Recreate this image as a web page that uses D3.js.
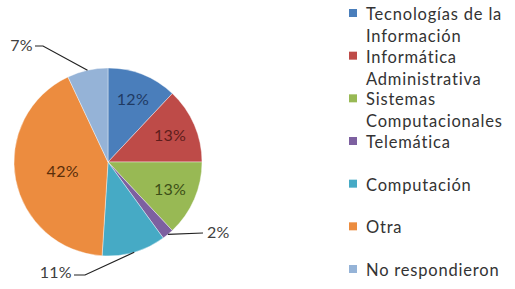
<!DOCTYPE html>
<html>
<head>
<meta charset="utf-8">
<script src="https://cdn.jsdelivr.net/npm/d3@7"></script>
<style>
  html, body { margin: 0; padding: 0; background: #fff; }
  svg { display: block; }
  text { font-family: Lato, "Open Sans", sans-serif; }
</style>
</head>
<body>
<svg id="chart" width="515" height="289"></svg>
<script>
// Carreras — porcentaje de respuestas
const categories = [
  'Tecnologías de la Información',
  'Informática Administrativa',
  'Sistemas Computacionales',
  'Telemática',
  'Computación',
  'Otra',
  'No respondieron'
];
const values = [12, 13, 13, 2, 11, 42, 7];
const legendLines = [
  ['Tecnologías de la', 'Información'],
  ['Informática', 'Administrativa'],
  ['Sistemas', 'Computacionales'],
  ['Telemática'],
  ['Computación'],
  ['Otra'],
  ['No respondieron']
];
const colors = ['#4a7ebb', '#be4b48', '#98b954', '#7d60a0', '#46aac5', '#ec8c3f', '#95b3d7'];
const labelColors = ['#1f3a63', '#5e1d1b', '#3c4f17', '#404040', '#404040', '#5a2e0a', '#404040'];

const cx = 108, cy = 162, R = 94;
const svg = d3.select('#chart');
const g = svg.append('g').attr('transform', `translate(${cx},${cy})`);

const pie = d3.pie().sort(null).value(d => d);
const arcs = pie(values);
const arc = d3.arc().innerRadius(0).outerRadius(R);

g.selectAll('path.slice')
  .data(arcs)
  .join('path')
  .attr('class', 'slice')
  .attr('d', arc)
  .attr('fill', (d, i) => colors[i])
  .attr('stroke', '#fff')
  .attr('stroke-width', 0.4);

// small slices: label outside, leader = edge -> elbow -> short horizontal tail
const outside = {
  3: { elbow: [95, 71], tail: 0, text: [99, 76], anchor: 'start' },
  4: { elbow: [-23, 113], tail: -11, text: [-36, 116], anchor: 'end' },
  6: { elbow: [-65, -116], tail: -8, text: [-75, -111], anchor: 'end' }
};

arcs.forEach((d, i) => {
  const mid = (d.startAngle + d.endAngle) / 2;
  const label = d3.format('.0%')(values[i] / d3.sum(values));
  if (outside[i]) {
    const o = outside[i];
    const edge = [Math.sin(mid) * R, -Math.cos(mid) * R];
    const pts = [edge, o.elbow, [o.elbow[0] + o.tail, o.elbow[1]]];
    g.append('polyline')
      .attr('points', pts.map(p => p.join(',')).join(' '))
      .attr('fill', 'none')
      .attr('stroke', '#222')
      .attr('stroke-width', 1.2);
    g.append('text')
      .attr('x', o.text[0]).attr('y', o.text[1])
      .attr('text-anchor', o.anchor)
      .attr('font-size', 16)
      .attr('letter-spacing', 0.3)
      .attr('fill', '#404040')
      .text(label);
  } else {
    const r = values[i] > 30 ? R * 0.49 : R * 0.72;
    g.append('text')
      .attr('x', Math.sin(mid) * r).attr('y', -Math.cos(mid) * r + 6)
      .attr('text-anchor', 'middle')
      .attr('font-size', 16)
      .attr('letter-spacing', 0.3)
      .attr('fill', labelColors[i])
      .text(label);
  }
});

// legend
const legend = svg.append('g').attr('transform', 'translate(349,0)');
const rowY = d3.scalePoint().domain(d3.range(categories.length)).range([20, 276]);
const item = legend.selectAll('g.item')
  .data(categories)
  .join('g')
  .attr('class', 'item')
  .attr('transform', (d, i) => `translate(0,${rowY(i)})`);
item.append('rect')
  .attr('x', 0).attr('y', -11).attr('width', 8).attr('height', 8)
  .attr('fill', (d, i) => colors[i]);
item.append('text')
  .attr('font-size', 16.5)
  .attr('fill', '#333')
  .attr('letter-spacing', 0.8)
  .selectAll('tspan')
  .data((d, i) => legendLines[i])
  .join('tspan')
  .attr('x', 17)
  .attr('y', (d, j) => j * 22)
  .text(d => d);
</script>
</body>
</html>
